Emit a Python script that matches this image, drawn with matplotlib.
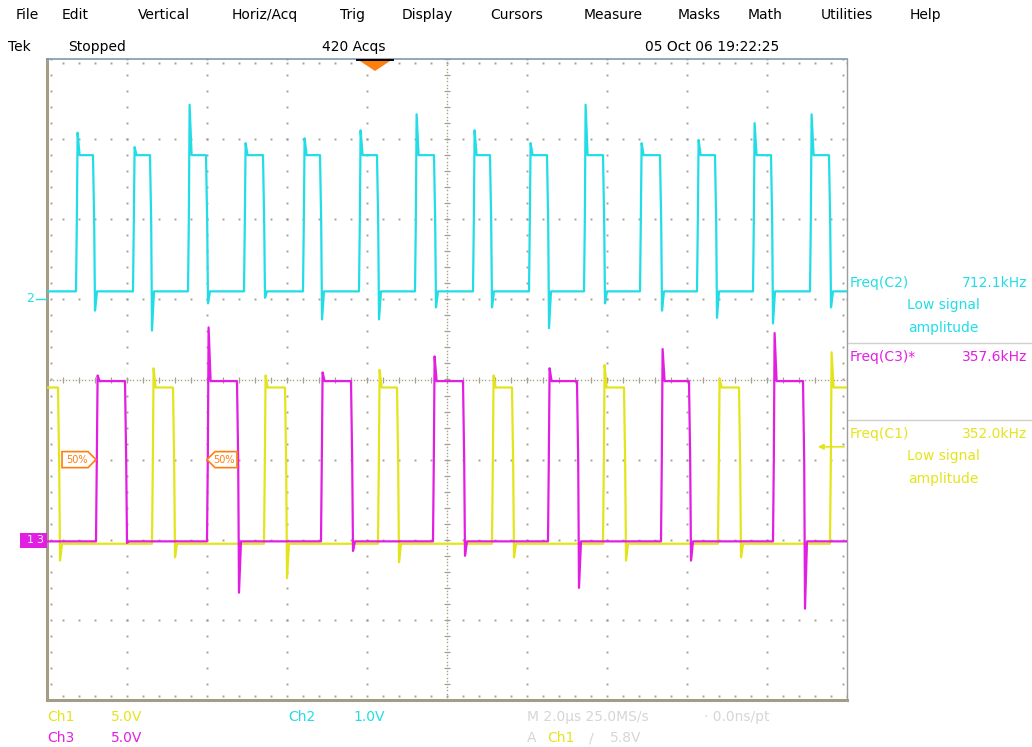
import numpy as np
import matplotlib
matplotlib.use('Agg')
import matplotlib.pyplot as plt
from matplotlib.patches import Polygon, Rectangle

W, H = 1032, 747

# ---- readings (time in us, voltage in V) ----
# Ch2 (cyan), 1 V/div
ch2_rise = [-9.275, -7.85, -6.475, -5.075, -3.6, -2.2, -0.8, 0.65, 2.05, 3.425, 4.825, 6.25, 7.65, 9.075]
ch2_fall = [-8.85, -7.425, -6.025, -4.6, -3.175, -1.75, -0.325, 1.075, 2.5, 3.9, 5.325, 6.7, 8.1, 9.55]
ch2_over = [2.08, 1.9, 2.43, 1.95, 2.01, 2.11, 2.31, 2.11, 1.95, 2.43, 1.95, 1.99, 2.2, 2.31]
ch2_under = [-0.14, -0.39, -0.05, 0.02, -0.25, -0.25, -0.1, -0.1, -0.36, -0.05, -0.14, -0.23, -0.3, -0.1]
ch2_high, ch2_low = 1.8, 0.1

# Ch1 (yellow), 5 V/div, starts high at left edge
ch1_rise = [-7.375, -4.575, -1.725, 1.125, 3.9, 6.775, 9.575]
ch1_fall = [-9.725, -6.85, -4.05, -1.25, 1.625, 4.425, 7.3]
ch1_over = [10.7, 10.25, 10.6, 10.25, 10.9, 10.06, 11.7]
ch1_under = [-1.3, -1.1, -2.4, -1.4, -1.1, -1.3, -1.1]
ch1_high, ch1_low = 9.5, -0.25

# Ch3 (magenta), 5 V/div
ch3_rise = [-8.775, -6.0, -3.15, -0.35, 2.525, 5.35, 8.15]
ch3_fall = [-8.05, -5.25, -2.4, 0.4, 3.25, 6.05, 8.9]
ch3_over = [10.25, 13.25, 10.44, 11.44, 10.7, 11.9, 12.9]
ch3_under = [-0.2, -3.3, -0.7, -1.0, -3.0, -1.3, -4.3]
ch3_high, ch3_low = 9.9, -0.1

menu_items = ['File', 'Edit', 'Vertical', 'Horiz/Acq', 'Trig', 'Display', 'Cursors',
              'Measure', 'Masks', 'Math', 'Utilities', 'Help']
menu_x = [16, 62, 138, 232, 340, 402, 490, 584, 678, 748, 821, 910]

meas_names = ['Freq(C2)', 'Freq(C3)*', 'Freq(C1)']
meas_values = ['712.1kHz', '357.6kHz', '352.0kHz']
meas_low = [True, False, True]

trig_level = 5.8
trig_time = -1.8

CYAN = '#22dde6'
YELLOW = '#e4e41c'
MAGENTA = '#e31ee3'
ORANGE = '#ff7f0e'
GRID = '#a8a08c'
GRAYTXT = '#d6d6d6'


def trace(rises, falls, overs, unders, high, low, start_high=False):
    ev = [(t, 'r', o) for t, o in zip(rises, overs)] + [(t, 'f', u) for t, u in zip(falls, unders)]
    ev.sort()
    lvl = high if start_high else low
    t = [-10.0]
    v = [lvl]
    for te, kind, pk in ev:
        if kind == 'r':
            t += [te, te + 0.02, te + 0.04, te + 0.09]
            v += [low, (low + high) / 2, pk, high]
            lvl = high
        else:
            t += [te, te + 0.03, te + 0.05, te + 0.10]
            v += [high, (low + high) / 2, pk, low]
            lvl = low
    t.append(10.0)
    v.append(lvl)
    return np.array(t), np.array(v)


def px(x, y):
    return x / W, 1 - y / H


fig = plt.figure(figsize=(W / 100, H / 100), dpi=100)
fig.patch.set_facecolor('white')
ax = fig.add_axes([47 / W, (H - 700) / H, 800 / W, 641 / H])
ax.set_xlim(-10, 10)
ax.set_ylim(-4, 4)
ax.set_xticks([])
ax.set_yticks([])
ax.spines['left'].set_color('#a59c88')
ax.spines['left'].set_linewidth(2.2)
ax.spines['bottom'].set_color('#a59c88')
ax.spines['bottom'].set_linewidth(2.2)
ax.spines['top'].set_color('#7f98ae')
ax.spines['top'].set_linewidth(1.2)
ax.spines['right'].set_color('#9c9c9c')
ax.spines['right'].set_linewidth(1.0)

# graticule
minor_x = np.arange(-10, 10.001, 0.4)
minor_y = np.arange(-4, 4.001, 0.2)
for gx in range(-8, 9, 2):
    if gx == 0:
        continue
    ax.plot(np.full_like(minor_y, gx), minor_y, ls='none', marker='s', ms=1.4, color=GRID, mew=0)
for gy in range(-3, 4):
    if gy == 0:
        continue
    ax.plot(minor_x, np.full_like(minor_x, gy), ls='none', marker='s', ms=1.4, color=GRID, mew=0)
fine_x = np.arange(-10, 10.001, 0.08)
fine_y = np.arange(-4, 4.001, 0.04)
ax.plot(np.zeros_like(fine_y), fine_y, ls='none', marker='s', ms=1.0, color=GRID, mew=0)
ax.plot(fine_x, np.zeros_like(fine_x), ls='none', marker='s', ms=1.0, color=GRID, mew=0)
ax.plot(np.zeros_like(minor_y), minor_y, ls='none', marker='_', ms=4.5, color=GRID, mew=0.9)
ax.plot(minor_x, np.zeros_like(minor_x), ls='none', marker='|', ms=4.5, color=GRID, mew=0.9)
# border ticks
ax.plot(np.full_like(minor_y, -9.9), minor_y, ls='none', marker='s', ms=1.4, color=GRID, mew=0)
ax.plot(np.full_like(minor_y, 9.9), minor_y, ls='none', marker='s', ms=1.4, color=GRID, mew=0)
ax.plot(minor_x, np.full_like(minor_x, -3.95), ls='none', marker='s', ms=1.4, color=GRID, mew=0)
ax.plot(minor_x, np.full_like(minor_x, 3.95), ls='none', marker='s', ms=1.4, color=GRID, mew=0)

# traces
t1, v1 = trace(ch1_rise, ch1_fall, ch1_over, ch1_under, ch1_high, ch1_low, start_high=True)
t3, v3 = trace(ch3_rise, ch3_fall, ch3_over, ch3_under, ch3_high, ch3_low)
t2, v2 = trace(ch2_rise, ch2_fall, ch2_over, ch2_under, ch2_high, ch2_low)
ax.plot(t1, v1 / 5.0 - 2, color=YELLOW, lw=1.6, zorder=3)
ax.plot(t3, v3 / 5.0 - 2, color=MAGENTA, lw=1.6, zorder=4)
ax.plot(t2, v2 / 1.0 + 1, color=CYAN, lw=1.6, zorder=4)

# trigger position marker
ax.add_patch(Polygon([[trig_time - 0.45, 4.0], [trig_time + 0.45, 4.0], [trig_time, 3.85]],
                     closed=True, fc=ORANGE, ec='none', clip_on=False, zorder=6))
ax.plot([trig_time - 0.45, trig_time + 0.45], [3.99, 3.99], color='black', lw=1.4,
        clip_on=False, zorder=7)

# trigger level marker
ty = trig_level / 5.0 - 2
ax.annotate('', xy=(9.2, ty), xytext=(10.0, ty),
            arrowprops=dict(arrowstyle='-|>', color=YELLOW, lw=1.2, mutation_scale=8), zorder=6)

# 50% reference tags on Ch3 edges
mid = -1.0
tag1 = ch3_rise[0]
ax.add_patch(Polygon([[tag1 - 0.85, mid - 0.1], [tag1 - 0.2, mid - 0.1], [tag1, mid],
                      [tag1 - 0.2, mid + 0.1], [tag1 - 0.85, mid + 0.1]],
                     closed=True, fc='white', ec=ORANGE, lw=1.2, zorder=6))
ax.text(tag1 - 0.48, mid, '50%', color=ORANGE, fontsize=7, ha='center', va='center', zorder=7)
tag2 = ch3_rise[1]
ax.add_patch(Polygon([[tag2, mid], [tag2 + 0.2, mid - 0.1], [tag2 + 0.75, mid - 0.1],
                      [tag2 + 0.75, mid + 0.1], [tag2 + 0.2, mid + 0.1]],
                     closed=True, fc='white', ec=ORANGE, lw=1.2, zorder=6))
ax.text(tag2 + 0.42, mid, '50%', color=ORANGE, fontsize=7, ha='center', va='center', zorder=7)

# ground markers (left of graticule)
fig.text(*px(30, 299), '2', color=CYAN, fontsize=9, ha='center', va='center')
fig.lines.append(plt.Line2D([36 / W, 46 / W], [1 - 299 / H] * 2, color=CYAN, lw=1.0,
                            transform=fig.transFigure, figure=fig))
fig.patches.append(Rectangle(px(20, 548), 27 / W, 15 / H, transform=fig.transFigure,
                             fc=MAGENTA, ec='none', figure=fig))
fig.text(*px(30, 540), '1', color='#e8f8f8', fontsize=8, ha='center', va='center')
fig.text(*px(40, 540), '3', color='#e8f8f8', fontsize=8, ha='center', va='center')

# menu bar and status line
for name, x in zip(menu_items, menu_x):
    fig.text(*px(x, 15), name, fontsize=10, ha='left', va='center', color='black')
fig.text(*px(8, 47), 'Tek', fontsize=10, ha='left', va='center')
fig.text(*px(68, 47), 'Stopped', fontsize=10, ha='left', va='center')
fig.text(*px(322, 47), '420 Acqs', fontsize=10, ha='left', va='center')
fig.text(*px(645, 47), '05 Oct 06 19:22:25', fontsize=10, ha='left', va='center')

# measurement panel
colors = [CYAN, MAGENTA, YELLOW]
rows = [283, 357, 434]
for name, val, low, c, ry in zip(meas_names, meas_values, meas_low, colors, rows):
    fig.text(*px(850, ry), name, color=c, fontsize=10, ha='left', va='center')
    fig.text(*px(1027, ry), val, color=c, fontsize=10, ha='right', va='center')
    if low:
        fig.text(*px(943, ry + 22), 'Low signal', color=c, fontsize=10, ha='center', va='center')
        fig.text(*px(943, ry + 45), 'amplitude', color=c, fontsize=10, ha='center', va='center')
for sy in [343, 420]:
    fig.lines.append(plt.Line2D([848 / W, 1032 / W], [1 - sy / H] * 2, color='#cfcfcf', lw=1.0,
                                transform=fig.transFigure, figure=fig))

# channel readout
fig.text(*px(47, 717), 'Ch1', color=YELLOW, fontsize=10, ha='left', va='center')
fig.text(*px(111, 717), '5.0V', color=YELLOW, fontsize=10, ha='left', va='center')
fig.text(*px(288, 717), 'Ch2', color=CYAN, fontsize=10, ha='left', va='center')
fig.text(*px(353, 717), '1.0V', color=CYAN, fontsize=10, ha='left', va='center')
fig.text(*px(47, 738), 'Ch3', color=MAGENTA, fontsize=10, ha='left', va='center')
fig.text(*px(111, 738), '5.0V', color=MAGENTA, fontsize=10, ha='left', va='center')
fig.text(*px(527, 717), 'M 2.0µs 25.0MS/s', color=GRAYTXT, fontsize=10, ha='left', va='center')
fig.text(*px(704, 717), '· 0.0ns/pt', color=GRAYTXT, fontsize=10, ha='left', va='center')
fig.text(*px(527, 738), 'A', color=GRAYTXT, fontsize=10, ha='left', va='center')
fig.text(*px(547, 738), 'Ch1', color=YELLOW, fontsize=10, ha='left', va='center')
fig.text(*px(589, 738), '/', color=GRAYTXT, fontsize=10, ha='left', va='center')
fig.text(*px(610, 738), '5.8V', color=GRAYTXT, fontsize=10, ha='left', va='center')

fig.savefig('out.png', dpi=100, facecolor='white')
